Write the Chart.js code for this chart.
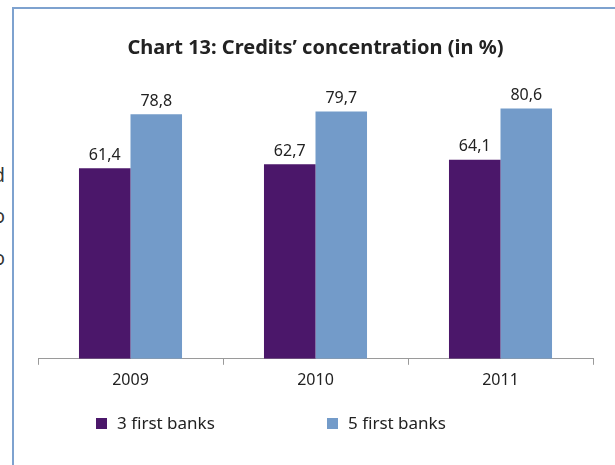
<!DOCTYPE html>
<html>
<head>
<meta charset="utf-8">
<script src="https://cdn.jsdelivr.net/npm/chart.js@4"></script>
<style>
  html, body { margin: 0; padding: 0; background: #fff; }
  #wrap { position: relative; width: 615px; height: 465px; overflow: hidden; }
  #frame { position: absolute; left: 12px; top: 7px; right: -10px; bottom: -10px;
           border-left: 2px solid #7ea2cf; border-top: 2px solid #7ea2cf; }
  canvas { position: absolute; left: 0; top: 0; }
  .cut { position: absolute; font: 19px "Noto Sans"; color: #333; text-align: right; width: 30px; }
</style>
</head>
<body>
<div id="wrap">
  <div id="frame"></div>
  <span class="cut" style="left:-25px; top:162px;">d</span>
  <span class="cut" style="left:-25px; top:203px;">o</span>
  <span class="cut" style="left:-25px; top:245px;">o</span>
  <canvas id="c" width="615" height="465"></canvas>
</div>
<script>
const years = ['2009', '2010', '2011'];
const top3 = [61.4, 62.7, 64.1];
const top5 = [78.8, 79.7, 80.6];
const seriesNames = ['3 first banks', '5 first banks'];
const chartTitle = 'Chart 13: Credits\u2019 concentration (in %)';

const purple = '#4b176a';
const blue = '#739bc9';

// values over bars, comma as decimal mark
const valueLabels = {
  id: 'valueLabels',
  afterDatasetsDraw(chart) {
    const ctx = chart.ctx;
    ctx.save();
    ctx.font = '16px "Noto Sans"';
    ctx.fillStyle = '#222';
    ctx.textAlign = 'center';
    ctx.textBaseline = 'middle';
    chart.data.datasets.forEach((ds, i) => {
      chart.getDatasetMeta(i).data.forEach((bar, j) => {
        ctx.fillText(ds.data[j].toFixed(1).replace('.', ','), bar.x, bar.y - 13);
      });
    });
    ctx.restore();
  }
};

// legend drawn by hand, the built in one can't space items this wide
const bottomLegend = {
  id: 'bottomLegend',
  afterDraw(chart) {
    const ctx = chart.ctx;
    const xs = [96, 327];
    ctx.save();
    ctx.font = '17px "Noto Sans"';
    ctx.textBaseline = 'middle';
    chart.data.datasets.forEach((ds, i) => {
      ctx.fillStyle = ds.backgroundColor;
      ctx.fillRect(xs[i], 418, 11, 11);
      ctx.fillStyle = '#222';
      ctx.fillText(ds.label, xs[i] + 21, 424);
    });
    ctx.restore();
  }
};

new Chart(document.getElementById('c'), {
  type: 'bar',
  data: {
    labels: years,
    datasets: [
      { label: seriesNames[0], data: top3, backgroundColor: purple },
      { label: seriesNames[1], data: top5, backgroundColor: blue }
    ]
  },
  options: {
    responsive: false,
    animation: false,
    layout: { padding: { left: 38, right: 22, top: 10, bottom: 69 } },
    datasets: { bar: { categoryPercentage: 0.557, barPercentage: 1 } },
    plugins: {
      legend: { display: false },
      tooltip: { enabled: false },
      title: {
        display: true,
        text: chartTitle,
        color: '#222',
        font: { family: 'Noto Sans', size: 20, weight: 'bold' },
        padding: { top: 26, bottom: 19.4 }
      }
    },
    scales: {
      x: {
        grid: { offset: true, drawOnChartArea: false, drawTicks: true, tickLength: 6, color: '#9a9a9a' },
        border: { display: true, color: '#9a9a9a' },
        ticks: { color: '#222', padding: 6, font: { family: 'Noto Sans', size: 16 } }
      },
      y: {
        display: false,
        min: 0,
        max: 90
      }
    }
  },
  plugins: [valueLabels, bottomLegend]
});
</script>
</body>
</html>
